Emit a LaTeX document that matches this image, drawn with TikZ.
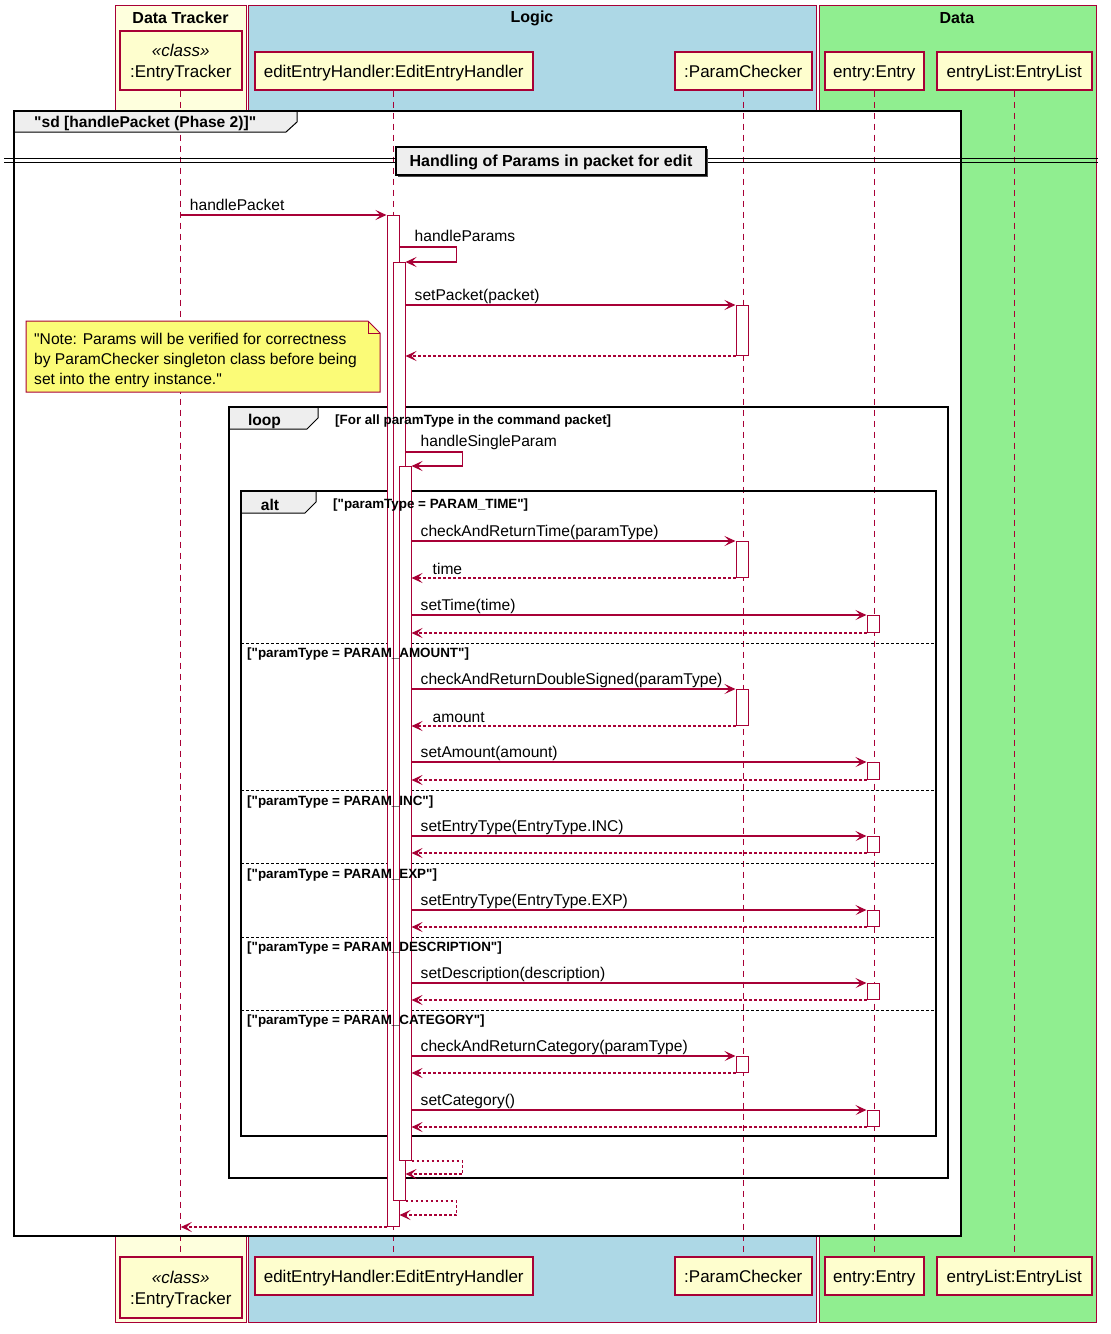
\documentclass[tikz,border=0pt]{standalone}
\usepackage{fontspec}
\setmainfont{Liberation Sans}[Ligatures=TeXOff]
\usetikzlibrary{arrows.meta,calc}
\definecolor{crim}{HTML}{A80036}
\definecolor{partfill}{HTML}{FEFECE}
\definecolor{dtfill}{HTML}{FEFFDD}
\definecolor{logicfill}{HTML}{ADD8E6}
\definecolor{datafill}{HTML}{90EE90}
\definecolor{notefill}{HTML}{FBFB77}
\definecolor{tabfill}{HTML}{EEEEEE}
\newcommand\msgfont{\fontsize{15.6pt}{20pt}\selectfont}
\newcommand\partfont{\fontsize{17pt}{21pt}\selectfont}
\newcommand\guardfont{\bfseries\fontsize{13.4pt}{16pt}\selectfont}
\newcommand\tabfont{\bfseries\fontsize{15.6pt}{18pt}\selectfont}
\tikzset{
  lane/.style={draw=crim, line width=1pt},
  lanetitle/.style={font=\bfseries\fontsize{16pt}{19pt}\selectfont, inner sep=0pt},
  partbase/.style={draw=crim, fill=partfill, line width=1.5pt, inner sep=0pt, font=\partfont, align=center, anchor=north west},
  part/.style={partbase, text height=13.5pt, text depth=0.5pt},
  lifeline/.style={draw=crim, line width=1pt, dash pattern=on 6pt off 5pt},
  actbar/.style={draw=crim, fill=white, line width=1pt, minimum width=12pt, inner sep=0pt, anchor=north},
  msg/.style={draw=crim, line width=1.1pt, -{Stealth[length=11pt,width=10pt,inset=5pt]}},
  ret/.style={msg, dash pattern=on 2.5pt off 2.5pt},
  mlabel/.style={anchor=west, inner sep=0pt, font=\msgfont, text height=11pt, text depth=3pt},
  guard/.style={anchor=west, inner sep=0pt, font=\guardfont},
  tablabel/.style={inner sep=0pt, font=\tabfont},
  tabedge/.style={draw=black, line width=1pt},
  frame/.style={draw=black, line width=2.2pt},
  sepline/.style={draw=black, line width=1pt, dash pattern=on 2.5pt off 2.5pt},
}
\newcommand\callto[5]{% name, x, ytop, height, label
  \node[actbar, minimum height=#4pt] (#1) at (#2,#3) {};
  \draw[msg] (act3.east |- #1.north) -- (#1.north west);
  \node[mlabel] (#1lab) at ($(act3.east |- #1.north)+(9,-9)$) {#5};
  \draw[ret] (#1.south west) -- (act3.east |- #1.south);
}
\begin{document}
\begin{tikzpicture}[x=1pt,y=-1pt]
\useasboundingbox (0,0) rectangle (1111,1334);
% lanes
\draw[lane, fill=dtfill] (115,5) rectangle (246,1322);
\draw[lane, fill=logicfill] (248,5) rectangle (816,1322);
\draw[lane, fill=datafill] (819,5) rectangle (1096,1322);
\node[lanetitle] (tDT) at (180.5,18) {Data Tracker};
\node[lanetitle] (tLG) at (532,18) {Logic};
\node[lanetitle] (tDA) at (957,18) {Data};
% participants
\node[partbase, minimum width=122pt, minimum height=59pt] (etTop) at (119,30) {\rule{0pt}{16.5pt}{\itshape «class»}\\:EntryTracker};
\node[part, minimum width=278pt, minimum height=38pt] (ehTop) at (254,51) {editEntryHandler:EditEntryHandler};
\node[part, minimum width=137pt, minimum height=38pt] (pcTop) at (674,51) {:ParamChecker};
\node[part, minimum width=99pt, minimum height=38pt] (enTop) at (824,51) {entry:Entry};
\node[part, minimum width=155pt, minimum height=38pt] (elTop) at (936,51) {entryList:EntryList};
\node[partbase, minimum width=122pt, minimum height=61pt] (etBot) at (119,1256) {\rule{0pt}{16.5pt}{\itshape «class»}\\:EntryTracker};
\node[part, minimum width=278pt, minimum height=38pt] (ehBot) at (254,1256) {editEntryHandler:EditEntryHandler};
\node[part, minimum width=137pt, minimum height=38pt] (pcBot) at (674,1256) {:ParamChecker};
\node[part, minimum width=99pt, minimum height=38pt] (enBot) at (824,1256) {entry:Entry};
\node[part, minimum width=155pt, minimum height=38pt] (elBot) at (936,1256) {entryList:EntryList};
% sd frame background
\fill[white] (14,111) rectangle (961,1236);
% lifelines
\draw[lifeline] (etTop.south) -- (etBot.north);
\draw[lifeline] (ehTop.south) -- (ehBot.north);
\draw[lifeline] (pcTop.south) -- (pcBot.north);
\draw[lifeline] (enTop.south) -- (enBot.north);
\draw[lifeline] (elTop.south) -- (elBot.north);
% sd frame
\fill[tabfill] (14,111) -- (297,111) -- (297,122) -- (286,132) -- (14,132) -- cycle;
\draw[tabedge] (297,111) -- (297,122) -- (286,132) -- (14,132);
\draw[frame, line width=2.6pt] (14,111) rectangle (961,1236);
\node[tablabel, anchor=west] (sdLab) at (34,123.5) {"sd [handlePacket (Phase 2)]"};
% divider
\draw[black, line width=1pt] (4,158) -- (1098,158);
\draw[black, line width=1pt] (4,162.5) -- (1098,162.5);
\fill[black!70] (398,149) rectangle (708,177);
\node[draw=black, fill=tabfill, line width=1.6pt, minimum width=310pt, minimum height=28pt, inner sep=0pt, font=\bfseries\fontsize{16pt}{19pt}\selectfont, text height=11.5pt, text depth=0.5pt] (div) at (551,161) {Handling of Params in packet for edit};
% note
\draw[draw=crim, fill=notefill, line width=1pt] (26,321) -- (368,321) -- (380,333) -- (380,392) -- (26,392) -- cycle;
\draw[draw=crim, line width=1pt] (368,321) -- (368,333) -- (380,333);
\node[anchor=west, align=left, inner sep=0pt, font=\msgfont] (note) at (34,360.5) {"Note: Params will be verified for correctness\\by ParamChecker singleton class before being\\set into the entry instance."};
% loop frame
\fill[tabfill] (229,407) -- (318,407) -- (318,418) -- (307,429) -- (229,429) -- cycle;
\draw[tabedge] (318,407) -- (318,418) -- (307,429) -- (229,429);
\draw[frame] (229,407) rectangle (948,1178);
\node[tablabel] (loopLab) at (264.5,421) {loop};
% alt frame
\fill[tabfill] (241,491) -- (316,491) -- (316,502) -- (305,513) -- (241,513) -- cycle;
\draw[tabedge] (316,491) -- (316,502) -- (305,513) -- (241,513);
\draw[frame] (241,491) rectangle (936,1136);
\node[tablabel] (altLab) at (270,505) {alt};
\draw[sepline] (241,643) -- (936,643);
\draw[sepline] (241,790) -- (936,790);
\draw[sepline] (241,863) -- (936,863);
\draw[sepline] (241,937) -- (936,937);
\draw[sepline] (241,1010) -- (936,1010);
% activations of the handler
\node[actbar, minimum height=1011pt] (act1) at (393,215) {};
\node[actbar, minimum height=938pt] (act2) at (399,262) {};
\node[actbar, minimum height=694pt] (act3) at (405,466) {};
% guards (drawn over the activation bars)
\node[guard] (loopGuard) at (335,421) {[For all paramType in the command packet]};
\node[guard] (g1) at (333,505) {["paramType = PARAM\_TIME"]};
\node[guard] (g2) at (247,654) {["paramType = PARAM\_AMOUNT"]};
\node[guard] (g3) at (247,802) {["paramType = PARAM\_INC"]};
\node[guard] (g4) at (247,875) {["paramType = PARAM\_EXP"]};
\node[guard] (g5) at (247,948) {["paramType = PARAM\_DESCRIPTION"]};
\node[guard] (g6) at (247,1021) {["paramType = PARAM\_CATEGORY"]};
% handlePacket
\draw[msg] (etTop.south |- act1.north) -- (act1.north west);
\node[mlabel] (l0) at ($(etTop.south |- act1.north)+(9,-9)$) {handlePacket};
% handleParams
\draw[msg] ($(act1.east |- act2.north)+(0,-15)$) -- ++(57,0) |- (act2.north east);
\node[mlabel] (l1) at ($(act1.east |- act2.north)+(15,-25)$) {handleParams};
% setPacket
\node[actbar, minimum height=50pt] (pc0) at (742,305) {};
\draw[msg] (act2.east |- pc0.north) -- (pc0.north west);
\node[mlabel] (l2) at ($(act2.east |- pc0.north)+(9,-9)$) {setPacket(packet)};
\draw[ret] (pc0.south west) -- (act2.east |- pc0.south);
% handleSingleParam
\draw[msg] ($(act2.east |- act3.north)+(0,-14)$) -- ++(57,0) |- (act3.north east);
\node[mlabel] (l3) at ($(act2.east |- act3.north)+(15,-24)$) {handleSingleParam};
% alt calls
\callto{pc1}{742}{541}{36}{checkAndReturnTime(paramType)}
\node[mlabel] (r1) at ($(act3.east |- pc1.south)+(21,-8)$) {time};
\callto{en1}{873}{615}{17}{setTime(time)}
\callto{pc2}{742}{689}{36}{checkAndReturnDoubleSigned(paramType)}
\node[mlabel] (r2) at ($(act3.east |- pc2.south)+(21,-8)$) {amount};
\callto{en2}{873}{762}{17}{setAmount(amount)}
\callto{en3}{873}{836}{16}{setEntryType(EntryType.INC)}
\callto{en4}{873}{910}{16}{setEntryType(EntryType.EXP)}
\callto{en5}{873}{983}{16}{setDescription(description)}
\callto{pc3}{742}{1056}{16}{checkAndReturnCategory(paramType)}
\callto{en6}{873}{1110}{16}{setCategory()}
% returns
\draw[ret] (act3.south east) -- ++(51,0) |- ($(act3.south -| act2.east)+(0,13)$);
\draw[ret] (act2.south east) -- ++(51,0) |- ($(act2.south -| act1.east)+(0,14)$);
\draw[ret] (act1.south west) -- (etTop.south |- act1.south);
\end{tikzpicture}
\end{document}
